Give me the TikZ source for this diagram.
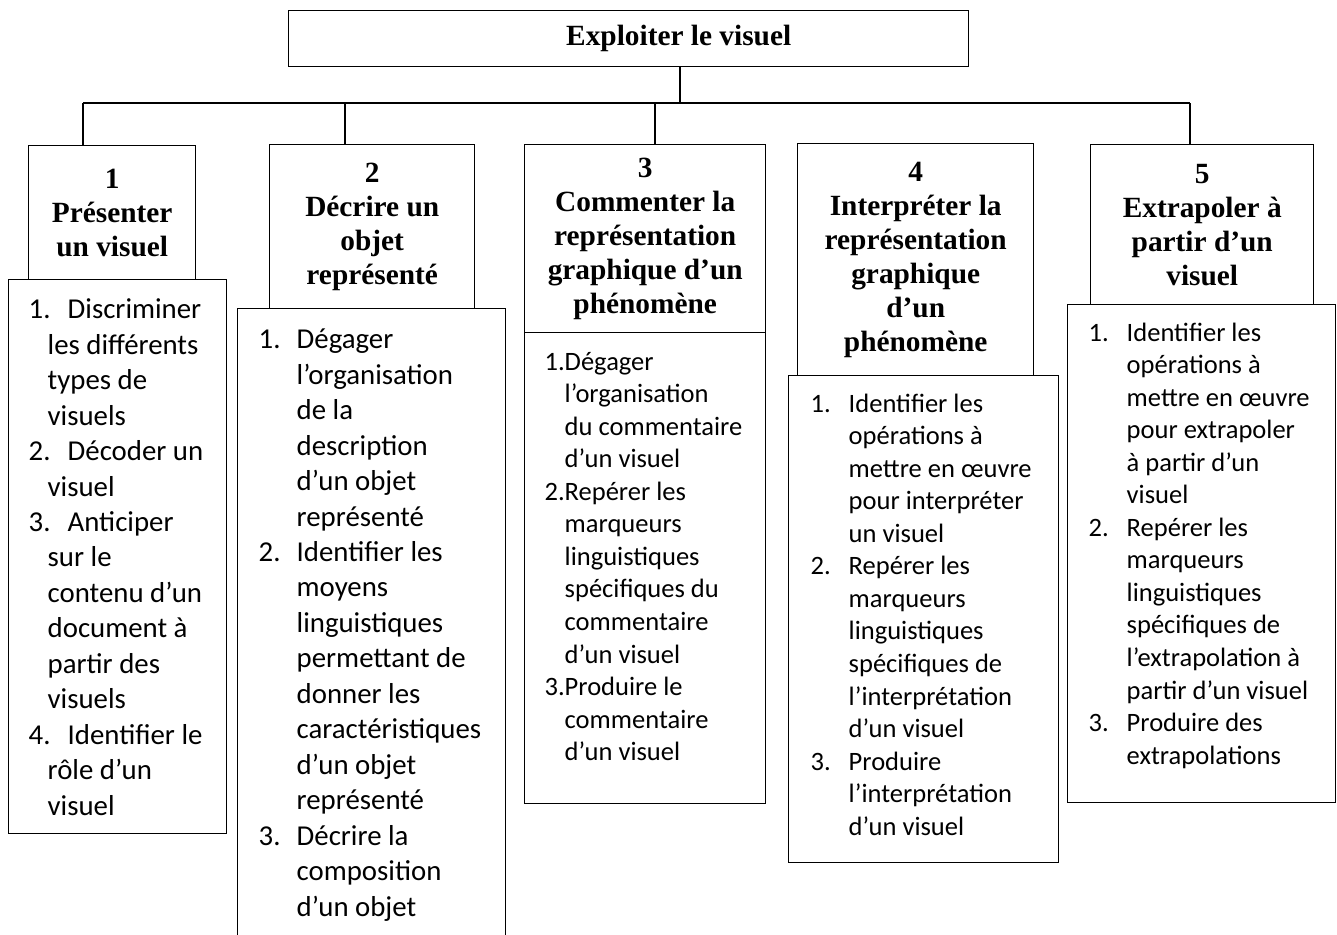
\documentclass[tikz,border=0pt]{standalone}
\usepackage{fontspec}
\setmainfont{Liberation Serif}
\newfontfamily\listfont{Carlito}
\newlength\pxu
\setlength\pxu{0.02cm}
% one numbered line: label offset, text offset, hang indent, label, text
\newcommand{\lstitem}[5]{\par\noindent\hangindent=#3\pxu\hangafter=1%
\hspace*{#1\pxu}\makebox[\dimexpr#2\pxu-#1\pxu\relax][l]{#4}\strut#5}

\begin{document}
\begin{tikzpicture}[x=0.02cm,y=-0.02cm,line width=0.8pt,
    hd/.style 2 args={draw, inner sep=0pt, align=center, anchor=north west,
      minimum width=#1*0.02cm, minimum height=#2*0.02cm,
      font=\bfseries\fontsize{16.7}{19.3}\selectfont},
    lstA/.style={draw, inner sep=0pt, anchor=north west,
      font=\listfont\fontsize{16.4}{20.2}\selectfont},
    lstB/.style={draw, inner sep=0pt, anchor=north west,
      font=\listfont\fontsize{15.1}{18.5}\selectfont}]
    \useasboundingbox (0,0) rectangle (1337,934);
    \clip (0,0) rectangle (1337,934);

    %title
    \node[hd={680}{56}] (top) at (288,10) {\hspace*{100\pxu}Exploiter le visuel};

    %headers
    \node[hd={167}{134}] (h1) at (28,145) {1\\Présenter\\un visuel};
    \node[hd={205}{164}] (h2) at (269,144) {2\\Décrire un\\objet\\représenté};
    \node[hd={241}{188}] (h3) at (524,144) {3\\Commenter la\\représentation\\graphique d’un\\phénomène};
    \node[hd={236}{232}] (h4) at (797,143) {4\\Interpréter la\\représentation\\graphique\\d’un\\phénomène};
    \node[hd={223}{160}] (h5) at (1090,144) {5\\Extrapoler à\\partir d’un\\visuel};

    %lists
    \node[lstA] (l1) at (8,279) {\parbox[t][554\pxu][t]{218\pxu}{\vspace*{14\pxu}%
      \lstitem{20}{59}{39}{1.}{Discriminer\\les différents\\types de\\visuels}%
      \lstitem{20}{59}{39}{2.}{Décoder un\\visuel}%
      \lstitem{20}{59}{39}{3.}{Anticiper\\sur le\\contenu d’un\\document à\\partir des\\visuels}%
      \lstitem{20}{59}{39}{4.}{Identifier le\\rôle d’un\\visuel}}};
    \node[lstA] (l2) at (237,308) {\parbox[t][660\pxu][t]{268\pxu}{\vspace*{15\pxu}%
      \lstitem{21}{59}{59}{1.}{Dégager\\l’organisation\\de la\\description\\d’un objet\\représenté}%
      \lstitem{21}{59}{59}{2.}{Identifier les\\moyens\\linguistiques\\permettant de\\donner les\\caractéristiques\\d’un objet\\représenté}%
      \lstitem{21}{59}{59}{3.}{Décrire la\\composition\\d’un objet}}};
    \node[lstB] (l3) at (524,332) {\parbox[t][471\pxu][t]{241\pxu}{\vspace*{15\pxu}%
      \lstitem{20}{40}{40}{1.}{Dégager\\l’organisation\\du commentaire\\d’un visuel}%
      \lstitem{20}{40}{40}{2.}{Repérer les\\marqueurs\\linguistiques\\spécifiques du\\commentaire\\d’un visuel}%
      \lstitem{20}{40}{40}{3.}{Produire le\\commentaire\\d’un visuel}}};
    \node[lstB] (l4) at (788,375) {\parbox[t][487\pxu][t]{270\pxu}{\vspace*{14\pxu}%
      \lstitem{22}{60}{60}{1.}{Identifier les\\opérations à\\mettre en œuvre\\pour interpréter\\un visuel}%
      \lstitem{22}{60}{60}{2.}{Repérer les\\marqueurs\\linguistiques\\spécifiques de\\l’interprétation\\d’un visuel}%
      \lstitem{22}{60}{60}{3.}{Produire\\l’interprétation\\d’un visuel}}};
    \node[lstB] (l5) at (1067,304) {\parbox[t][498\pxu][t]{268\pxu}{\vspace*{14\pxu}%
      \lstitem{21}{59}{59}{1.}{Identifier les\\opérations à\\mettre en œuvre\\pour extrapoler\\à partir d’un\\visuel}%
      \lstitem{21}{59}{59}{2.}{Repérer les\\marqueurs\\linguistiques\\spécifiques de\\l’extrapolation à\\partir d’un visuel}%
      \lstitem{21}{59}{59}{3.}{Produire des\\extrapolations}}};

    %lines
    \coordinate (b0) at (680,103);
    \coordinate (b1) at (83,103);
    \coordinate (b2) at (345,103);
    \coordinate (b3) at (655,103);
    \coordinate (b5) at (1190,103);
    \draw (b0 |- top.south) -- (b0);
    \draw (b1) -- (b5);
    \draw (b1) -- (b1 |- h1.north);
    \draw (b2) -- (b2 |- h2.north);
    \draw (b3) -- (b3 |- h3.north);
    \draw (b5) -- (b5 |- h5.north);
\end{tikzpicture}
\end{document}
